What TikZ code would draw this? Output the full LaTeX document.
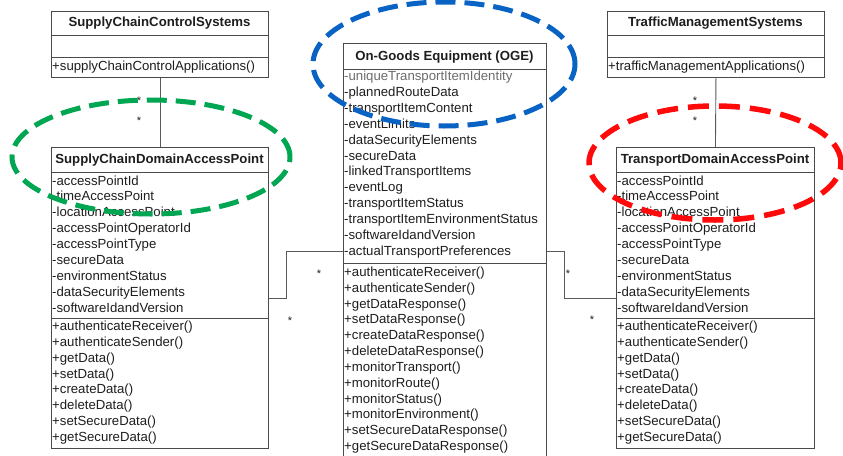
\documentclass[tikz,border=0pt]{standalone}
\usepackage{fontspec}
\setmainfont{Liberation Sans}
\definecolor{txt}{HTML}{1E1E1E}
\definecolor{boxline}{HTML}{4A4A4A}
\definecolor{linkgray}{HTML}{5A5A5A}
\definecolor{ringgreen}{HTML}{00A651}
\definecolor{ringblue}{HTML}{0863C4}
\definecolor{ringred}{HTML}{FF0A0A}
\begin{document}
\begin{tikzpicture}[x=1pt,y=-1pt,
  classbox/.style={draw=boxline, line width=0.9pt, inner sep=0pt, anchor=north west},
  sep/.style={draw=boxline, line width=0.9pt},
  title/.style={font=\fontsize{13.2}{15}\selectfont\bfseries, text=txt, inner sep=0pt, anchor=base},
  member/.style={font=\fontsize{13.2}{15}\selectfont, text=txt, inner sep=0pt, anchor=base west},
  mult/.style={font=\fontsize{11}{12}\selectfont, text=txt, inner sep=0pt, anchor=base},
  assoc/.style={draw=linkgray, line width=0.9pt},
  ring/.style={line width=5pt, dash pattern=on 20pt off 9pt}]
\useasboundingbox (0,0) rectangle (843,455);
\fill[white] (0,0) rectangle (843,455);

% ---- SupplyChainControlSystems ----
\node[classbox, minimum width=217pt, minimum height=66pt] (scc) at (51,11) {};
\draw[sep] (51,35) -- (268,35);
\draw[sep] (51,57) -- (268,57);
\node[title] (scc-t) at (159.5,27) {SupplyChainControlSystems};
\node[member] (scc-m) at (52,70.5) {+supplyChainControlApplications()};

% ---- TrafficManagementSystems ----
\node[classbox, minimum width=217pt, minimum height=66pt] (tms) at (607,11) {};
\draw[sep] (607,35) -- (824,35);
\draw[sep] (607,57) -- (824,57);
\node[title] (tms-t) at (715.5,27) {TrafficManagementSystems};
\node[member] (tms-m) at (608,70.5) {+trafficManagementApplications()};

% ---- SupplyChainDomainAccessPoint ----
\node[classbox, minimum width=217pt, minimum height=301pt] (scd) at (51,147) {};
\draw[sep] (51,172) -- (268,172);
\draw[sep] (51,318) -- (268,318);
\node[title] (scd-t) at (159.5,163.5) {SupplyChainDomainAccessPoint};

% ---- TransportDomainAccessPoint ----
\node[classbox, minimum width=198pt, minimum height=301pt] (tdap) at (616,147) {};
\draw[sep] (616,172) -- (814,172);
\draw[sep] (616,318) -- (814,318);
\node[title] (tdap-t) at (715,163.5) {TransportDomainAccessPoint};

% shared member lists of the two access points
\foreach \bx/\lx in {scd/52, tdap/617} {
  \foreach \t [count=\i from 0] in {-accessPointId, -timeAccessPoint,
      -locationAccessPoint, -accessPointOperatorId, -accessPointType,
      -secureData, -environmentStatus, -dataSecurityElements,
      -softwareIdandVersion}
    \node[member] (\bx-a\i) at (\lx, 185+\i*15.9) {\t};
  \foreach \t [count=\i from 0] in {+authenticateReceiver(),
      +authenticateSender(), +getData(), +setData(), +createData(),
      +deleteData(), +setSecureData(), +getSecureData()}
    \node[member] (\bx-m\i) at (\lx, 330.5+\i*15.87) {\t};
}

% ---- On-Goods Equipment ----
\node[classbox, minimum width=203pt, minimum height=416pt] (oge) at (343,43) {};
\draw[sep] (343,69) -- (546,69);
\draw[sep] (343,263) -- (546,263);
\node[title] (oge-t) at (444.5,60.5) {On-Goods Equipment (OGE)};
\node[member, text=txt!65] (oge-a0) at (344,80.5) {-uniqueTransportItemIdentity};
\foreach \t [count=\i from 1] in {-plannedRouteData, -transportItemContent,
    -eventLimits, -dataSecurityElements, -secureData, -linkedTransportItems,
    -eventLog, -transportItemStatus, -transportItemEnvironmentStatus,
    -softwareIdandVersion, -actualTransportPreferences}
  \node[member] (oge-a\i) at (344, 80.5+\i*15.9) {\t};
\foreach \t [count=\i from 0] in {+authenticateReceiver(),
    +authenticateSender(), +getDataResponse(), +setDataResponse(),
    +createDataResponse(), +deleteDataResponse(), +monitorTransport(),
    +monitorRoute(), +monitorStatus(), +monitorEnvironment(),
    +setSecureDataResponse(), +getSecureDataResponse()}
  \node[member] (oge-m\i) at (344, 276.5+\i*15.82) {\t};

% ---- associations ----
\draw[assoc] (scc.south) -- (scd.north);
\draw[assoc] (tms.south) -- (tdap.north);
\draw[assoc] (scd.east) -- ++(18,0) |- (oge.west);
\draw[assoc] (oge.east) -- ++(18,0) |- (tdap.west);

% multiplicities
\node[mult] (m1) at (139,104.5) {*};
\node[mult] (m2) at (139,124.5) {*};
\node[mult] (m3) at (695,104.5) {*};
\node[mult] (m4) at (695,124.5) {*};
\node[mult] (m5) at (319,277.5) {*};
\node[mult] (m6) at (290,324) {*};
\node[mult] (m7) at (568,277.5) {*};
\node[mult] (m8) at (592,323.5) {*};

% ---- highlight rings ----
\draw[ring, ringgreen] (151,157) ellipse [x radius=139pt, y radius=57pt];
\draw[ring, ringblue] (444,64) ellipse [x radius=131pt, y radius=62pt];
\draw[ring, ringred, line width=5.5pt, dash pattern=on 21pt off 10pt] (715,163) ellipse [x radius=126pt, y radius=57pt];
\end{tikzpicture}
\end{document}
